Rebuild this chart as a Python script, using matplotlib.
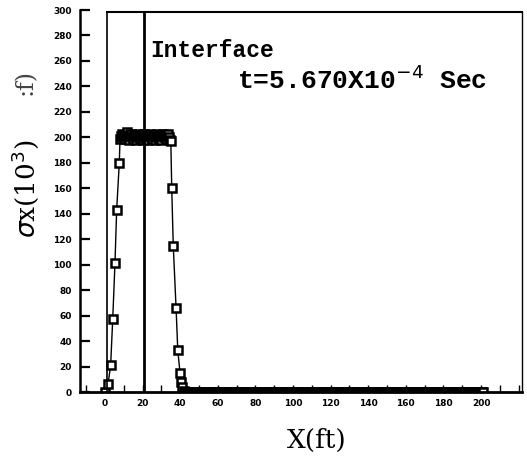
import numpy as np
import matplotlib
matplotlib.use("Agg")
import matplotlib.pyplot as plt
from matplotlib.ticker import MultipleLocator

# stress profile sigma_x along the bar (10^3 psf)
x_rise = [0.0, 1.6, 3.0, 4.1, 5.3, 6.2, 7.6]
s_rise = [0, 6, 21, 57, 101, 143, 180]

x_top = [8.0, 8.5, 9.0, 9.5, 10.0, 10.5, 11.0, 11.5, 12.0, 12.5, 13.0, 13.5,
         14.0, 14.5, 15.0, 15.5, 16.0, 16.5, 17.0, 17.5, 18.0, 18.5, 19.0,
         19.5, 20.0, 20.5, 21.0, 21.5, 22.0, 22.5, 23.0, 23.5, 24.0, 24.5,
         25.0, 25.5, 26.0, 26.5, 27.0, 27.5, 28.0, 28.5, 29.0, 29.5, 30.0,
         30.5, 31.0, 31.5, 32.0, 32.5, 33.0, 33.5, 34.0, 34.5, 35.0]
s_top = [199, 201, 203, 200, 202, 199, 201, 204, 200, 202, 198, 201,
         203, 200, 199, 202, 201, 198, 200, 203, 201, 199, 202,
         200, 198, 201, 203, 200, 199, 202, 198, 201, 203, 200,
         199, 202, 201, 198, 200, 203, 201, 199, 202, 200, 198,
         201, 203, 200, 202, 199, 201, 203, 200, 198, 197]

x_fall = [35.5, 36.3, 37.8, 38.7, 39.9, 40.5, 41.2, 42.0]
s_fall = [160, 115, 66, 33, 15, 8, 4, 1]

x_tail = np.arange(42.5, 201.5, 0.5)
s_tail = np.zeros(len(x_tail))

x_interface = 21
t_label = "t=5.670X10$^{-4}$ Sec"

xs = np.concatenate([x_rise, x_top, x_fall, x_tail])
ss = np.concatenate([s_rise, s_top, s_fall, s_tail])

fig = plt.figure(figsize=(5.27, 4.62), dpi=100)
ax = fig.add_axes([80/527, 70/462, 442/527, 382/462])

ax.plot(xs, ss, "k-", lw=1.0, marker="s", ms=6, mfc="white",
        mec="black", mew=1.8)

ax.set_xlim(-13.3, 221.8)
ax.set_ylim(0, 300)

# inner frame and interface line
ax.plot([1, 1], [0, 298.5], color="black", lw=1.2)
ax.plot([1, 221.8], [298.5, 298.5], color="black", lw=1.5, clip_on=False)
ax.plot([x_interface, x_interface], [0, 298.5], color="black", lw=2.0)

ax.spines["top"].set_visible(False)
ax.spines["right"].set_bounds(0, 298.5)
ax.spines["right"].set_linewidth(1.0)
ax.spines["left"].set_linewidth(1.8)
ax.spines["bottom"].set_linewidth(2.0)

ax.xaxis.set_minor_locator(MultipleLocator(10))
ax.yaxis.set_major_locator(MultipleLocator(20))
ax.set_xticks(range(0, 201, 20))
ax.tick_params(axis="y", direction="in", length=7, width=1.6, pad=6,
               labelsize=6.5)
ax.tick_params(axis="x", which="both", direction="in", length=5, width=1.0,
               pad=5, labelsize=6.5)
ax.tick_params(right=False, top=False)
for lab in ax.get_xticklabels() + ax.get_yticklabels():
    lab.set_fontweight("bold")

ax.text(24, 268, "Interface", fontsize=16.5, fontweight="bold",
        family="Liberation Mono", va="center")
ax.text(70, 245, t_label, fontsize=19, family="Liberation Mono",
        fontweight="bold", va="center")

fig.text(317/527, 1 - 440/462, "X(ft)", fontsize=19, family="DejaVu Serif",
         ha="center", va="center")
fig.text(25/527, 1 - 189/462, "$\\sigma$x(10$^3$)", rotation=90,
         fontsize=19, family="DejaVu Serif", ha="center", va="center")
fig.text(25/527, 1 - 82/462, ":f)", rotation=90, fontsize=17,
         family="DejaVu Serif", ha="center", va="center", color="#444444")

fig.savefig("out.png", dpi=100)
